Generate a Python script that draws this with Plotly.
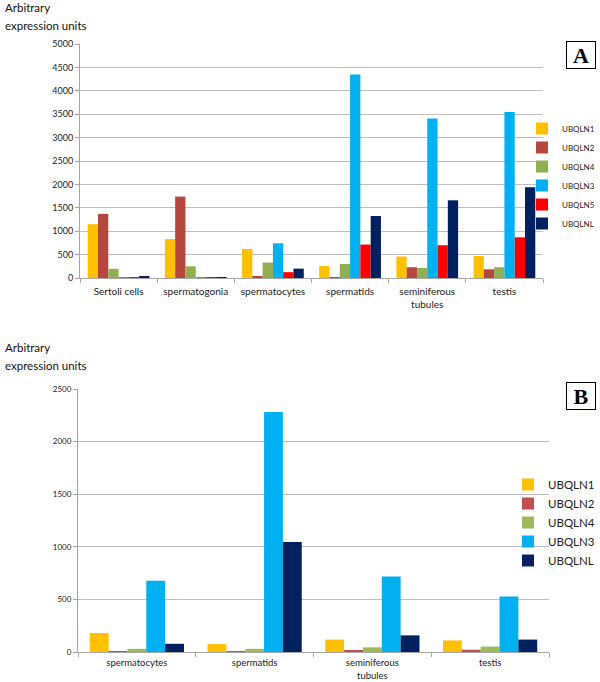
import plotly.graph_objects as go

# ---- Data: panel A ----
cats_a = ["Sertoli cells", "spermatogonia", "spermatocytes", "spermatids",
          "seminiferous<br>tubules", "testis"]
series_a = ["UBQLN1", "UBQLN2", "UBQLN4", "UBQLN3", "UBQLN5", "UBQLNL"]
ubqln1_a = [1150, 830, 620, 255, 460, 470]
ubqln2_a = [1370, 1740, 35, 15, 230, 185]
ubqln4_a = [195, 250, 330, 300, 215, 230]
ubqln3_a = [20, 20, 740, 4350, 3410, 3545]
ubqln5_a = [20, 20, 125, 715, 700, 870]
ubqlnl_a = [35, 20, 200, 1325, 1660, 1940]
vals_a = [ubqln1_a, ubqln2_a, ubqln4_a, ubqln3_a, ubqln5_a, ubqlnl_a]

# ---- Data: panel B ----
cats_b = ["spermatocytes", "spermatids", "seminiferous<br>tubules", "testis"]
series_b = ["UBQLN1", "UBQLN2", "UBQLN4", "UBQLN3", "UBQLNL"]
ubqln1_b = [180, 75, 118, 110]
ubqln2_b = [6, 6, 10, 22]
ubqln4_b = [30, 30, 44, 52]
ubqln3_b = [677, 2282, 718, 528]
ubqlnl_b = [78, 1045, 158, 118]
vals_b = [ubqln1_b, ubqln2_b, ubqln4_b, ubqln3_b, ubqlnl_b]

colors = {"UBQLN1": "#FFC000", "UBQLN2": "#B5473F", "UBQLN4": "#8FAF50",
          "UBQLN3": "#00B0F0", "UBQLN5": "#FF0000", "UBQLNL": "#002060"}
colors_b = {"UBQLN1": "#FFC000", "UBQLN2": "#C0504D", "UBQLN4": "#9BBB59",
            "UBQLN3": "#00B0F0", "UBQLNL": "#002060"}

W, H = 600, 682
FONT = "Lato, Liberation Sans, sans-serif"

def px_x(x):
    return x / W

def px_y(y):
    return 1 - y / H

fig = go.Figure()
for name, v in zip(series_a, vals_a):
    fig.add_trace(go.Bar(x=cats_a, y=v, name=name, marker_color=colors[name],
                         marker_line_width=0, xaxis="x", yaxis="y", legend="legend"))
for name, v in zip(series_b, vals_b):
    fig.add_trace(go.Bar(x=cats_b, y=v, name=name, marker_color=colors_b[name],
                         marker_line_width=0, xaxis="x2", yaxis="y2", legend="legend2"))

axis_common = dict(showline=True, linecolor="#A6A6A6", linewidth=1)
fig.update_layout(
    width=W, height=H, margin=dict(l=0, r=0, t=0, b=0, autoexpand=False),
    paper_bgcolor="white", plot_bgcolor="white",
    barmode="group", bargap=0.2, bargroupgap=0,
    font=dict(family=FONT, color="#222"),
    xaxis=dict(domain=[px_x(80), px_x(543)], anchor="y", ticks="outside",
               tickson="boundaries", ticklen=4, tickcolor="#A6A6A6",
               ticklabelstandoff=4,
               tickfont=dict(family=FONT, size=10, color="#222"), **axis_common),
    yaxis=dict(domain=[px_y(278), px_y(44)], anchor="x", range=[0, 5000],
               dtick=500, ticks="outside", ticklen=4, tickcolor="#A6A6A6",
               showgrid=True, gridcolor="#BFBFBF", gridwidth=1, zeroline=False,
               tickfont=dict(family=FONT, size=9, color="#222"), **axis_common),
    xaxis2=dict(domain=[px_x(78), px_x(549)], anchor="y2", ticks="outside",
                tickson="boundaries", ticklen=4, tickcolor="#A6A6A6",
                ticklabelstandoff=2,
                tickfont=dict(family=FONT, size=9.5, color="#222"), **axis_common),
    yaxis2=dict(domain=[px_y(652), px_y(389)], anchor="x2", range=[0, 2500],
                dtick=500, ticks="outside", ticklen=4, tickcolor="#A6A6A6",
                showgrid=True, gridcolor="#BFBFBF", gridwidth=1, zeroline=False,
                tickfont=dict(family=FONT, size=8, color="#222"), **axis_common),
    legend=dict(x=1, y=px_y(114), xanchor="right", yanchor="top",
                font=dict(family=FONT, size=8), tracegroupgap=0,
                bgcolor="rgba(0,0,0,0)", itemwidth=30),
    legend2=dict(x=1, y=px_y(470), xanchor="right", yanchor="top",
                 font=dict(family=FONT, size=11.5), tracegroupgap=0,
                 bgcolor="rgba(0,0,0,0)", itemwidth=30),
)

ann = []
for y0 in (8, 347):
    ann.append(dict(text="Arbitrary", x=px_x(3), y=px_y(y0), xref="paper", yref="paper",
                    xanchor="left", yanchor="middle", showarrow=False,
                    font=dict(family=FONT, size=11.5, color="#111")))
    ann.append(dict(text="expression units", x=px_x(3), y=px_y(y0 + 18), xref="paper",
                    yref="paper", xanchor="left", yanchor="middle", showarrow=False,
                    font=dict(family=FONT, size=11.5, color="#111")))
for lab, yc in (("A", 55), ("B", 396)):
    ann.append(dict(text="<b>" + lab + "</b>", x=px_x(581), y=px_y(yc), xref="paper",
                    yref="paper", xanchor="center", yanchor="middle", showarrow=False,
                    font=dict(family="Liberation Serif, serif", size=22, color="black"),
                    bordercolor="black", borderwidth=1, borderpad=2, bgcolor="white",
                    width=24, height=22))
fig.update_layout(annotations=ann)

fig.write_html("out.html", config={"displayModeBar": False},
               post_script="document.body.style.margin='0px';document.body.style.overflow='hidden';")
